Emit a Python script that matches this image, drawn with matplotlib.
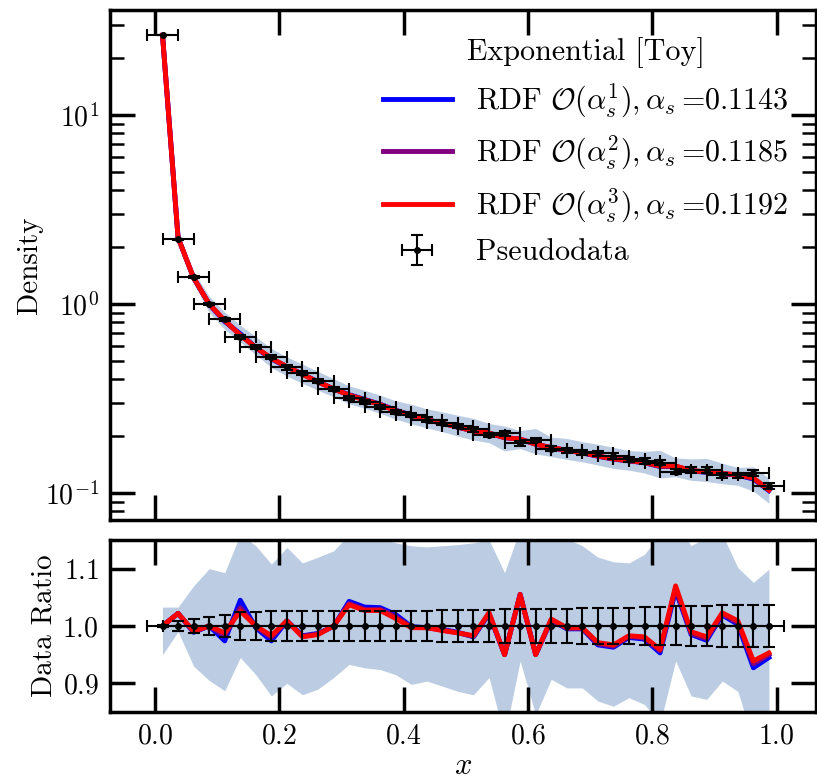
import numpy as np
import matplotlib
matplotlib.use("Agg")
import matplotlib.pyplot as plt

plt.rcParams['font.family'] = 'serif'
plt.rcParams['font.serif'] = ['cmr10']
plt.rcParams['mathtext.fontset'] = 'cm'
plt.rcParams['axes.formatter.use_mathtext'] = True
plt.rcParams['axes.unicode_minus'] = False

# bin centres (40 bins of width 0.025)
x = np.arange(0.0125, 1.0, 0.025)
x_half = 0.025

# pseudodata density
density = [26.5, 2.2, 1.39, 1.0, 0.83, 0.667, 0.59, 0.526, 0.462, 0.433,
           0.393, 0.356, 0.318, 0.303, 0.286, 0.269, 0.259, 0.245, 0.236, 0.226,
           0.217, 0.203, 0.207, 0.183, 0.191, 0.172, 0.169, 0.164, 0.162, 0.157,
           0.151, 0.148, 0.145, 0.130, 0.133, 0.132, 0.124, 0.124, 0.128, 0.109]

rel_err = [0.002, 0.009, 0.013, 0.015, 0.02, 0.024, 0.025, 0.026, 0.026, 0.026,
           0.026, 0.027, 0.027, 0.027, 0.027, 0.027, 0.027, 0.027, 0.028, 0.028,
           0.028, 0.028, 0.029, 0.029, 0.03, 0.03, 0.03, 0.031, 0.031, 0.032,
           0.032, 0.033, 0.033, 0.034, 0.035, 0.035, 0.036, 0.036, 0.037, 0.037]

# model / data ratios
ratio_o3 = [1.0, 1.022, 0.991, 1.0, 0.988, 1.026, 1.0, 0.983, 1.009, 0.981,
            0.985, 1.0, 1.037, 1.027, 1.027, 1.013, 0.997, 0.997, 0.992, 0.988,
            0.983, 1.023, 0.950, 1.055, 0.950, 1.012, 0.997, 0.997, 0.971, 0.967,
            0.983, 0.981, 0.959, 1.070, 0.990, 0.981, 1.023, 1.009, 0.939, 0.953]
ratio_o2 = [1.0, 1.022, 0.990, 1.0, 0.983, 1.032, 0.999, 0.980, 1.009, 0.982,
            0.986, 1.0, 1.039, 1.029, 1.029, 1.016, 0.998, 0.997, 0.993, 0.988,
            0.982, 1.022, 0.950, 1.055, 0.950, 1.011, 0.996, 0.996, 0.969, 0.965,
            0.982, 0.979, 0.957, 1.066, 0.987, 0.978, 1.021, 1.006, 0.934, 0.950]
ratio_o1 = [1.0, 1.022, 0.989, 1.0, 0.974, 1.045, 0.997, 0.974, 1.009, 0.983,
            0.987, 0.999, 1.043, 1.033, 1.032, 1.020, 0.999, 0.997, 0.994, 0.989,
            0.981, 1.021, 0.950, 1.055, 0.950, 1.010, 0.995, 0.995, 0.967, 0.963,
            0.980, 0.977, 0.953, 1.062, 0.985, 0.975, 1.019, 1.003, 0.927, 0.945]

# uncertainty band on the ratio
band_lo = [0.950, 0.990, 0.930, 0.905, 0.887, 0.945, 0.915, 0.878, 0.900, 0.880,
           0.890, 0.910, 0.933, 0.927, 0.924, 0.915, 0.898, 0.904, 0.895, 0.886,
           0.880, 0.910, 0.807, 0.939, 0.845, 0.907, 0.892, 0.892, 0.869, 0.860,
           0.875, 0.863, 0.830, 0.939, 0.878, 0.872, 0.904, 0.886, 0.800, 0.810]
band_hi = [1.033, 1.033, 1.070, 1.100, 1.093, 1.160, 1.140, 1.108, 1.137, 1.110,
           1.120, 1.131, 1.160, 1.155, 1.152, 1.145, 1.140, 1.138, 1.140, 1.142,
           1.145, 1.150, 1.093, 1.170, 1.150, 1.150, 1.152, 1.140, 1.120, 1.112,
           1.110, 1.125, 1.160, 1.180, 1.140, 1.155, 1.160, 1.102, 1.076, 1.099]

alphas = [0.1143, 0.1185, 0.1192]
colors = ['blue', 'purple', 'red']

density = np.array(density)
rel_err = np.array(rel_err)
ratios = [np.array(ratio_o1), np.array(ratio_o2), np.array(ratio_o3)]
band_lo = np.array(band_lo)
band_hi = np.array(band_hi)

fig = plt.figure(figsize=(8.17, 7.8), dpi=100)
ax1 = fig.add_axes([0.1346, 0.3333, 0.864, 0.6538])
ax2 = fig.add_axes([0.1346, 0.0872, 0.864, 0.2205], sharex=ax1)

band_col = '#b0c4de'

# top panel
ax1.fill_between(x, density * band_lo, density * band_hi, color=band_col, alpha=0.85, lw=0)
for i in range(3):
    lab = r"RDF $\mathcal{O}(\alpha_s^%d), \alpha_s\,$=%.4f" % (i + 1, alphas[i])
    ax1.plot(x, density * ratios[i], color=colors[i], lw=3.5, label=lab)
ax1.errorbar(x, density, yerr=density * rel_err, xerr=x_half, fmt='o', color='black',
             ms=4, lw=1.5, capsize=4, capthick=1.5, label='Pseudodata')
ax1.set_yscale('log')
ax1.set_ylim(0.072, 36)
ax1.set_ylabel('Density', fontsize=21)
ax1.yaxis.set_label_coords(-0.095, 0.5)
leg = ax1.legend(loc='upper right', title='Exponential [Toy]', frameon=False,
                 fontsize=21.7, title_fontsize=21.7, handlelength=2.3,
                 borderaxespad=0.5, labelspacing=0.46)
plt.setp(ax1.get_xticklabels(), visible=False)

# ratio panel
ax2.fill_between(x, band_lo, band_hi, color=band_col, alpha=0.85, lw=0)
for i in range(3):
    ax2.plot(x, ratios[i], color=colors[i], lw=3.5)
ax2.errorbar(x, np.ones_like(x), yerr=rel_err, xerr=x_half, fmt='o', color='black',
             ms=4, lw=1.5, capsize=4, capthick=1.5)
ax2.set_ylim(0.85, 1.15)
ax2.set_yticks([0.9, 1.0, 1.1])
ax2.set_xlim(-0.072, 1.063)
ax2.set_xticks([0.0, 0.2, 0.4, 0.6, 0.8, 1.0])
ax2.set_ylabel('Data Ratio', fontsize=21)
ax2.yaxis.set_label_coords(-0.075, 0.5)
ax2.set_xlabel(r'$x$', fontsize=22, labelpad=2)

for ax in (ax1, ax2):
    for s in ax.spines.values():
        s.set_linewidth(2.5)
    ax.tick_params(which='major', direction='in', length=18, width=2.5,
                   top=True, right=True, labelsize=20, pad=8)
    ax.tick_params(which='minor', direction='in', length=10, width=1.8,
                   top=True, right=True)
ax2.minorticks_off()
ax1.xaxis.set_minor_locator(matplotlib.ticker.NullLocator())

fig.savefig('out.png', dpi=100)
